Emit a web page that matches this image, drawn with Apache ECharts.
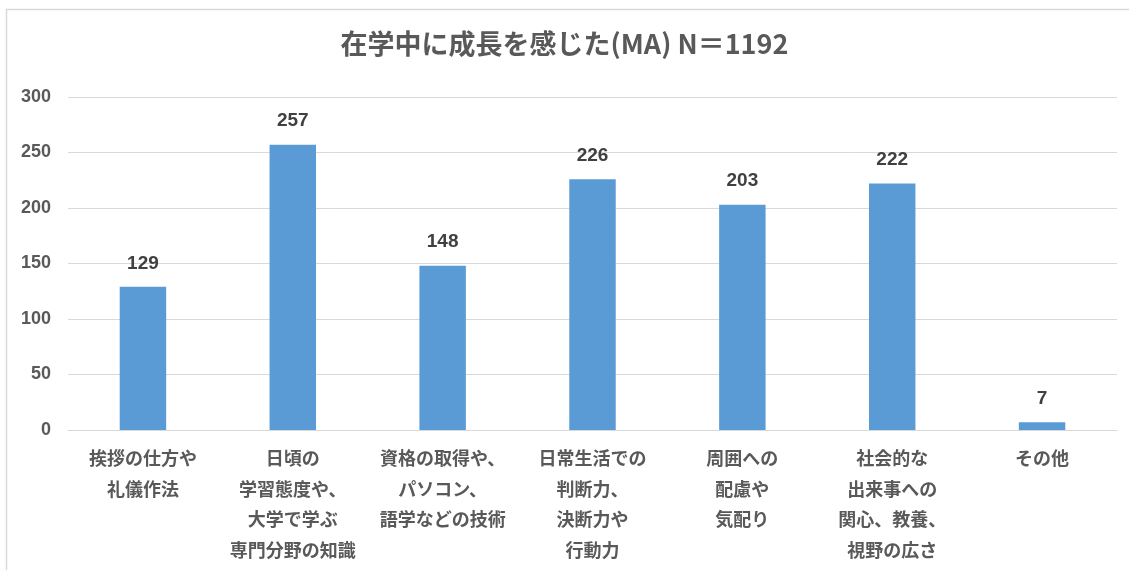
<!DOCTYPE html>
<html>
<head>
<meta charset="utf-8">
<script src="https://cdn.jsdelivr.net/npm/echarts@6/dist/echarts.min.js"></script>
<style>
html,body{margin:0;padding:0;background:#fff;}
#chart{width:1129px;height:570px;}
</style>
</head>
<body>
<div id="chart"></div>
<script>
const titleText = '在学中に成長を感じた(MA) N＝1192';
const categories = [
  '挨拶の仕方や\n礼儀作法',
  '日頃の\n学習態度や、\n大学で学ぶ\n専門分野の知識',
  '資格の取得や、\nパソコン、\n語学などの技術',
  '日常生活での\n判断力、\n決断力や\n行動力',
  '周囲への\n配慮や\n気配り',
  '社会的な\n出来事への\n関心、教養、\n視野の広さ',
  'その他'
];
const values = [129, 257, 148, 226, 203, 222, 7];
const yTicks = { min: 0, max: 300, interval: 50 };

const fontFam = '"Noto Sans CJK JP", "Noto Sans", sans-serif';
const numFam = '"Liberation Sans", Arial, sans-serif';
const chart = echarts.init(document.getElementById('chart'), null, {renderer: 'canvas'});
chart.setOption({
  animation: false,
  backgroundColor: '#ffffff',
  title: {
    text: titleText,
    left: 'center',
    top: 25,
    textStyle: { fontFamily: fontFam, fontSize: 27, fontWeight: 'bold', color: '#595959' }
  },
  graphic: [
    { type: 'polyline', shape: { points: [[6.5, 600], [6.5, 9.5], [1140, 9.5]] },
      style: { stroke: '#d9d9d9', lineWidth: 1.5, fill: null }, silent: true }
  ],
  grid: { left: 68, right: 12, top: 97, bottom: 140, containLabel: false },
  xAxis: {
    type: 'category',
    data: categories,
    axisLine: { show: true, lineStyle: { color: '#d9d9d9', width: 1 } },
    axisTick: { show: false },
    axisLabel: {
      interval: 0,
      margin: 13,
      fontFamily: fontFam,
      fontSize: 18,
      fontWeight: 'bold',
      color: '#595959',
      lineHeight: 30.5,
      align: 'center'
    }
  },
  yAxis: {
    type: 'value',
    min: yTicks.min,
    max: yTicks.max,
    interval: yTicks.interval,
    axisLine: { show: false },
    axisTick: { show: false },
    splitLine: { lineStyle: { color: '#d9d9d9', width: 1 } },
    axisLabel: {
      margin: 17,
      fontFamily: numFam,
      fontSize: 18,
      fontWeight: 'bold',
      color: '#595959'
    }
  },
  series: [{
    type: 'bar',
    data: values,
    barWidth: '31%',
    itemStyle: { color: '#5b9bd5' },
    label: {
      show: true,
      position: 'top',
      distance: 14,
      fontFamily: numFam,
      fontSize: 19,
      fontWeight: 'bold',
      color: '#404040'
    }
  }]
});
</script>
</body>
</html>
